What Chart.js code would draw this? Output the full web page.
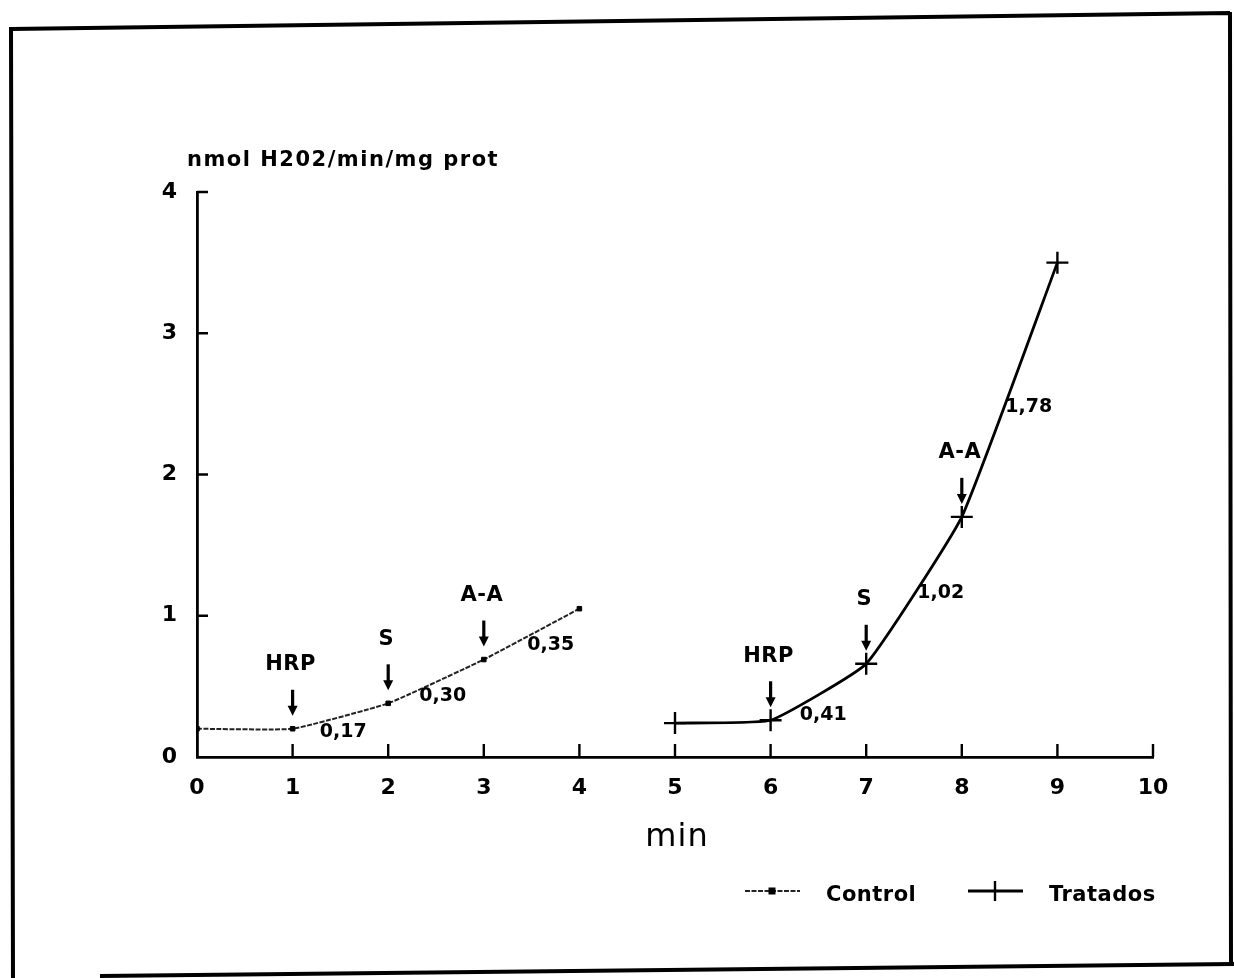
<!DOCTYPE html>
<html><head><meta charset="utf-8">
<script src="https://cdn.jsdelivr.net/npm/chart.js@4/dist/chart.umd.min.js"></script>
<style>html,body{margin:0;padding:0;background:#fff;}#wrap{position:relative;width:1234px;height:978px;}</style>
</head><body><div id="wrap"><canvas id="c" width="1234" height="978"></canvas></div>
<script>
// ---- data ----
const xTicks = [0,1,2,3,4,5,6,7,8,9,10];
const yTicks = [0,1,2,3,4];
const controlX = [0,1,2,3,4];
const controlY = [0.20,0.20,0.38,0.69,1.05];
const tratadosX = [5,6,7,8,9];
const tratadosY = [0.24,0.26,0.66,1.70,3.50];
const eventLabels = ['HRP','S','A-A','HRP','S','A-A'];
const eventX = [1,2,3,6,7,8];
const eventSeries = [0,0,0,1,1,1];
const slopeLabels = ['0,17','0,30','0,35','0,41','1,02','1,78'];
const slopeX = [1.53,2.57,3.70,6.55,7.78,8.70];
const slopeY = [0.18,0.43,0.79,0.30,1.16,2.48];
const yTitle = 'nmol H202/min/mg prot';
const xTitle = 'min';

const FONT = "'DejaVu Sans', sans-serif";
const toPts = (xs, ys) => xs.map((x, i) => ({x: x, y: ys[i]}));
const setLS = (ctx, v) => { if ('letterSpacing' in ctx) ctx.letterSpacing = v; };

const decorPlugin = {
  id: 'decor',
  afterDraw(chart) {
    const ctx = chart.ctx, xs = chart.scales.x, ys = chart.scales.y, ca = chart.chartArea;
    ctx.save();
    ctx.strokeStyle = '#000'; ctx.fillStyle = '#000';
    // page frame
    ctx.lineWidth = 4;
    ctx.beginPath();
    ctx.moveTo(10, 29); ctx.lineTo(1230, 13);
    ctx.moveTo(11, 27); ctx.lineTo(13, 978);
    ctx.moveTo(1230, 12); ctx.lineTo(1231, 965);
    ctx.moveTo(100, 976); ctx.lineTo(1234, 964);
    ctx.stroke();
    // inner ticks
    ctx.lineWidth = 2.4;
    ctx.beginPath();
    xTicks.forEach(v => { if (v === 0) return; const px = xs.getPixelForValue(v); ctx.moveTo(px, ca.bottom); ctx.lineTo(px, ca.bottom - 13); });
    yTicks.forEach(v => { if (v === 0) return; const py = ys.getPixelForValue(v); ctx.moveTo(ca.left, py); ctx.lineTo(ca.left + 11, py); });
    ctx.stroke();
    // axis titles
    ctx.font = 'bold 21px ' + FONT;
    setLS(ctx, '1.5px');
    ctx.textAlign = 'left'; ctx.textBaseline = 'middle';
    ctx.fillText(yTitle, ca.left - 10, ca.top - 31);
    ctx.font = '32px ' + FONT;
    setLS(ctx, '1px');
    ctx.textAlign = 'center';
    ctx.fillText(xTitle, (ca.left + ca.right) / 2 + 2, ca.bottom + 81);
    // event annotations (arrows)
    const series = [controlX, tratadosX], seriesY = [controlY, tratadosY];
    eventLabels.forEach((lab, i) => {
      const sx = series[eventSeries[i]], sy = seriesY[eventSeries[i]];
      const yv = sy[sx.indexOf(eventX[i])];
      const px = xs.getPixelForValue(eventX[i]), py = ys.getPixelForValue(yv);
      const tip = py - 13, top = py - 39;
      ctx.lineWidth = 3.2;
      ctx.beginPath(); ctx.moveTo(px, top); ctx.lineTo(px, tip - 6); ctx.stroke();
      ctx.beginPath(); ctx.moveTo(px - 5, tip - 10); ctx.lineTo(px + 5, tip - 10); ctx.lineTo(px, tip); ctx.closePath(); ctx.fill();
      ctx.font = 'bold 21px ' + FONT;
      setLS(ctx, '0.5px');
      ctx.textAlign = 'center'; ctx.textBaseline = 'middle';
      ctx.fillText(lab, px - 2, py - 64);
    });
    // slope labels
    ctx.font = 'bold 19px ' + FONT;
    setLS(ctx, '0px');
    slopeLabels.forEach((lab, i) => {
      ctx.fillText(lab, xs.getPixelForValue(slopeX[i]), ys.getPixelForValue(slopeY[i]));
    });
    // legend
    const ds = chart.data.datasets;
    const lx = [745, 968], ly = 891;
    ds.forEach((d, i) => {
      const x0 = lx[i];
      ctx.strokeStyle = d.borderColor; ctx.lineWidth = d.borderWidth;
      ctx.setLineDash(d.borderDash || []);
      ctx.beginPath(); ctx.moveTo(x0, ly); ctx.lineTo(x0 + 55, ly); ctx.stroke();
      ctx.setLineDash([]);
      const cx = x0 + 27;
      if (d.pointStyle === 'rect') {
        ctx.fillStyle = '#000'; ctx.fillRect(cx - 3.5, ly - 3.5, 7, 7);
      } else {
        ctx.strokeStyle = '#000'; ctx.lineWidth = 2.4;
        ctx.beginPath(); ctx.moveTo(cx, ly - 10); ctx.lineTo(cx, ly + 10); ctx.stroke();
      }
      ctx.fillStyle = '#000';
      ctx.font = 'bold 21px ' + FONT;
      setLS(ctx, '0.5px');
      ctx.textAlign = 'left'; ctx.textBaseline = 'middle';
      ctx.fillText(d.label, x0 + 81, ly + 5);
    });
    ctx.restore();
  }
};

new Chart(document.getElementById('c'), {
  type: 'line',
  data: {
    datasets: [
      { label: 'Control', data: toPts(controlX, controlY), borderColor: '#222', borderWidth: 2,
        borderDash: [5, 1.5], pointStyle: 'rect', pointRadius: 3.2, pointBackgroundColor: '#000',
        pointBorderColor: '#000', pointBorderWidth: 1, tension: 0.12 },
      { label: 'Tratados', data: toPts(tratadosX, tratadosY), borderColor: '#000', borderWidth: 2.8,
        pointStyle: 'cross', pointRadius: 11, pointBorderColor: '#000', pointBorderWidth: 2.4,
        tension: 0.12 }
    ]
  },
  options: {
    responsive: false, animation: false, devicePixelRatio: 1,
    layout: { padding: { left: 0, right: 81, top: 192, bottom: 0 } },
    plugins: { legend: { display: false }, tooltip: { enabled: false } },
    scales: {
      x: {
        type: 'linear', min: 0, max: 10,
        afterFit: s => { s.height = 221; },
        afterBuildTicks: s => { s.ticks = xTicks.map(v => ({ value: v })); },
        ticks: { color: '#000', font: { family: FONT, size: 22, weight: 'bold' }, padding: 18, maxRotation: 0, autoSkip: false },
        grid: { display: false, drawTicks: false },
        border: { display: true, color: '#000', width: 2.8 }
      },
      y: {
        min: 0, max: 4,
        afterFit: s => { s.width = 197; },
        afterBuildTicks: s => { s.ticks = yTicks.map(v => ({ value: v })); },
        ticks: { color: '#000', font: { family: FONT, size: 22, weight: 'bold' }, padding: 20 },
        grid: { display: false, drawTicks: false },
        border: { display: true, color: '#000', width: 2.8 }
      }
    }
  },
  plugins: [decorPlugin]
});
</script></body></html>
